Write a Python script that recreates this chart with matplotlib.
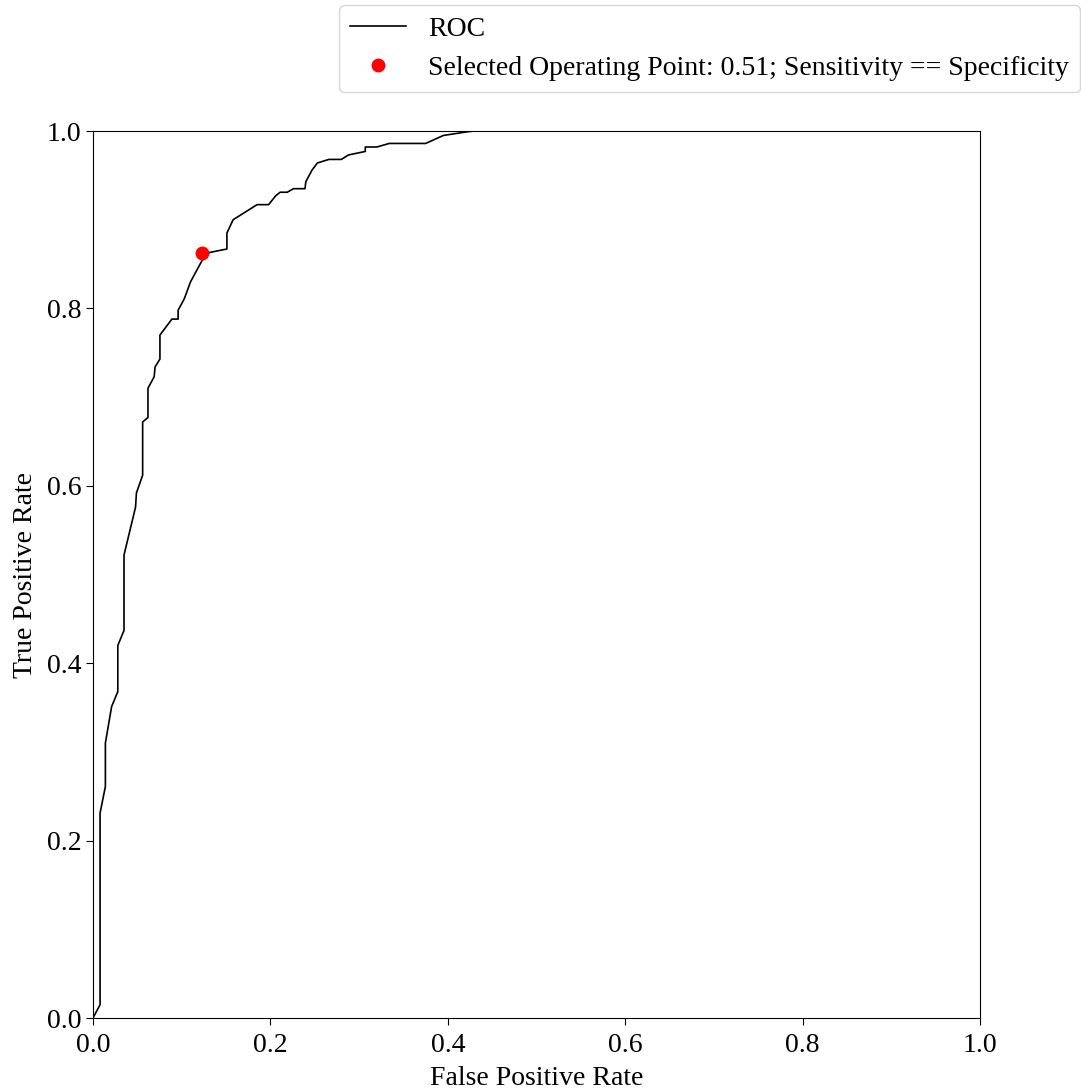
import matplotlib
matplotlib.use("Agg")
import matplotlib.pyplot as plt

plt.rcParams['font.family'] = ['Liberation Serif', 'DejaVu Serif']
plt.rcParams['font.size'] = 20

# ROC curve
fpr = [0.0, 0.008, 0.008, 0.014, 0.014, 0.021, 0.028, 0.028, 0.035, 0.035,
       0.048, 0.049, 0.056, 0.056, 0.062, 0.062, 0.069, 0.070, 0.0755, 0.0755,
       0.089, 0.096, 0.096, 0.103, 0.110, 0.117, 0.123, 0.131, 0.151, 0.151,
       0.158, 0.185, 0.198, 0.206, 0.211, 0.219, 0.226, 0.239, 0.240, 0.247,
       0.253, 0.266, 0.280, 0.288, 0.307, 0.307, 0.320, 0.334, 0.375, 0.395,
       0.421, 0.429, 1.0]
tpr = [0.0, 0.015, 0.231, 0.261, 0.310, 0.351, 0.368, 0.420, 0.437, 0.522,
       0.576, 0.592, 0.612, 0.672, 0.677, 0.710, 0.723, 0.734, 0.743, 0.770,
       0.788, 0.788, 0.798, 0.811, 0.830, 0.843, 0.854, 0.863, 0.867, 0.885,
       0.900, 0.917, 0.917, 0.927, 0.931, 0.931, 0.935, 0.935, 0.943, 0.956,
       0.964, 0.968, 0.968, 0.973, 0.977, 0.982, 0.982, 0.986, 0.986, 0.995,
       0.999, 1.0, 1.0]

op_fpr = [0.123]
op_tpr = [0.862]

fig = plt.figure(figsize=(10.81, 10.91), dpi=100)
ax = fig.add_axes([0.086, 0.0669, 0.8206, 0.813])

ax.plot(fpr, tpr, color='black', linewidth=1.2, label='ROC')
ax.plot(op_fpr, op_tpr, 'o', color='red', markersize=9,
        label='Selected Operating Point: 0.51; Sensitivity == Specificity')

ax.set_xlim(0, 1)
ax.set_ylim(0, 1)
ax.tick_params(length=5)
ax.tick_params(axis='x', pad=6)
ax.set_xlabel('False Positive Rate', labelpad=5.5)
ax.set_ylabel('True Positive Rate', labelpad=6)

fig.legend(loc='upper right', bbox_to_anchor=(1.012, 1.008), fontsize=20)

fig.savefig('out.png', dpi=100)
